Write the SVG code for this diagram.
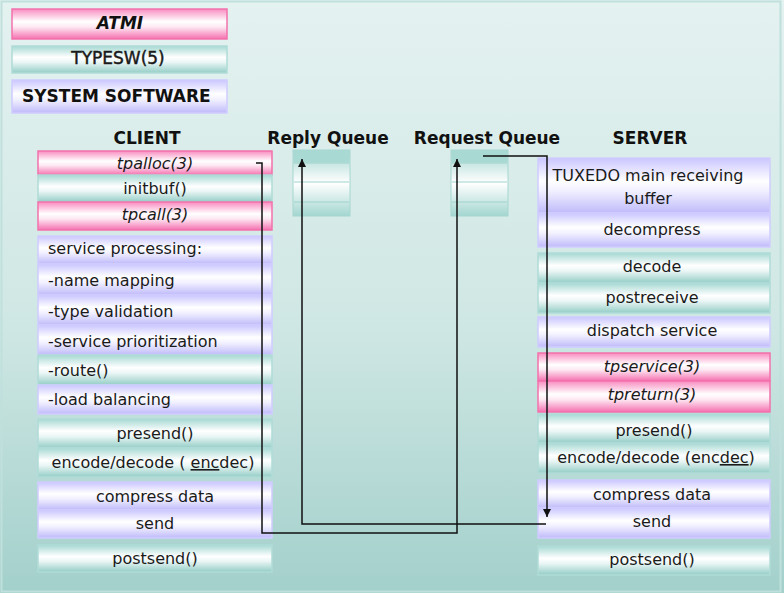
<svg xmlns="http://www.w3.org/2000/svg" width="784" height="593" viewBox="0 0 784 593">
<defs>
<linearGradient id="bg" x1="0" y1="0" x2="0" y2="1">
<stop offset="0" stop-color="#e4f2f0"/><stop offset="0.55" stop-color="#cfe7e4"/><stop offset="1" stop-color="#a3d0cb"/>
</linearGradient>
<linearGradient id="pink" x1="0" y1="0" x2="0" y2="1">
<stop offset="0" stop-color="#f98cc0"/><stop offset="0.42" stop-color="#ffffff"/><stop offset="0.6" stop-color="#fde8f2"/><stop offset="1" stop-color="#f570b0"/>
</linearGradient>
<linearGradient id="teal" x1="0" y1="0" x2="0" y2="1">
<stop offset="0" stop-color="#a6d9d3"/><stop offset="0.42" stop-color="#ffffff"/><stop offset="0.6" stop-color="#eaf6f5"/><stop offset="1" stop-color="#94cdc6"/>
</linearGradient>
<linearGradient id="lav" x1="0" y1="0" x2="0" y2="1">
<stop offset="0" stop-color="#cac6ff"/><stop offset="0.42" stop-color="#ffffff"/><stop offset="0.6" stop-color="#f1f0ff"/><stop offset="1" stop-color="#bfbafa"/>
</linearGradient>
<linearGradient id="q" x1="0" y1="0" x2="0" y2="1">
<stop offset="0" stop-color="#a3d6d0"/><stop offset="0.5" stop-color="#ffffff"/><stop offset="1" stop-color="#a3d6d0"/>
</linearGradient>
<marker id="arr" markerUnits="userSpaceOnUse" markerWidth="10" markerHeight="10" refX="8" refY="4" orient="auto">
<path d="M0,0 L8,4 L0,8 z" fill="#111"/>
</marker>
<style>
.t{font-family:"DejaVu Sans","Liberation Sans",sans-serif;font-size:16px;fill:#1a1a1a;text-anchor:middle}
.l{text-anchor:start}
.i{font-style:italic}
.h{font-weight:bold;font-size:17px;fill:#111}
.pk{fill:url(#pink);stroke:#f272ac;stroke-width:1.5}
.tl{fill:url(#teal);stroke:#b0dcd7;stroke-width:1.5}
.lv{fill:url(#lav);stroke:#d0ccff;stroke-width:1.5}
.qb{fill:url(#q);stroke:#a6d6d0;stroke-width:1}
.ql{stroke:#9fd3cc;stroke-width:1}
.c{fill:none;stroke:#111;stroke-width:1.5}
</style>
</defs>
<rect x="0" y="0" width="784" height="593" fill="url(#bg)"/>
<rect x="1.5" y="1.5" width="779" height="590" fill="none" stroke="#bfe0dc" stroke-width="2"/>

<g id="legend-atmi"><rect class="pk" x="12" y="9" width="215" height="30"/><text class="t h i" x="120" y="29">ATMI</text></g>
<g id="legend-typesw"><rect class="tl" x="12" y="46" width="215" height="27"/><text class="t" x="118" y="64" style="font-size:17px;stroke:#1a1a1a;stroke-width:0.45">TYPESW(5)</text></g>
<g id="legend-system"><rect class="lv" x="12" y="80" width="215" height="33"/><text class="t h l" x="22" y="102">SYSTEM SOFTWARE</text></g>

<g id="headers">
<text class="t h" x="147" y="144">CLIENT</text>
<text class="t h" x="328" y="144">Reply Queue</text>
<text class="t h" x="487" y="144">Request Queue</text>
<text class="t h" x="650" y="144">SERVER</text>
</g>

<g id="reply-queue">
<rect class="qb" x="293" y="150" width="57" height="66"/>
<rect x="293.5" y="150.5" width="56" height="12" fill="#a9d9d3"/>
<line class="ql" x1="294" y1="163" x2="349" y2="163"/>
<line class="ql" x1="294" y1="182" x2="349" y2="182"/>
<line class="ql" x1="294" y1="202" x2="349" y2="202"/>
</g>
<g id="request-queue">
<rect class="qb" x="451" y="150" width="57" height="66"/>
<rect x="451.5" y="150.5" width="56" height="12" fill="#a9d9d3"/>
<line class="ql" x1="452" y1="163" x2="507" y2="163"/>
<line class="ql" x1="452" y1="182" x2="507" y2="182"/>
<line class="ql" x1="452" y1="202" x2="507" y2="202"/>
</g>

<g id="client">
<g id="c-tpalloc"><rect class="pk" x="38" y="151" width="234" height="24"/><text class="t i" x="155" y="169">tpalloc(3)</text></g>
<g id="c-initbuf"><rect class="tl" x="38" y="175" width="234" height="27"/><text class="t" x="155" y="194">initbuf()</text></g>
<g id="c-tpcall"><rect class="pk" x="38" y="202" width="234" height="28"/><text class="t i" x="155" y="220">tpcall(3)</text></g>
<g id="c-service"><rect class="lv" x="38" y="236" width="234" height="28"/><text class="t l" x="48" y="254">service processing:</text></g>
<g id="c-name"><rect class="lv" x="38" y="264" width="234" height="31"/><text class="t l" x="48" y="286">-name mapping</text></g>
<g id="c-type"><rect class="lv" x="38" y="295" width="234" height="30"/><text class="t l" x="48" y="317">-type validation</text></g>
<g id="c-prio"><rect class="lv" x="38" y="325" width="234" height="30"/><text class="t l" x="48" y="347">-service prioritization</text></g>
<g id="c-route"><rect class="tl" x="38" y="355" width="234" height="30"/><text class="t l" x="48" y="376">-route()</text></g>
<g id="c-load"><rect class="lv" x="38" y="385" width="234" height="29"/><text class="t l" x="48" y="405">-load balancing</text></g>
<g id="c-presend"><rect class="tl" x="38" y="419" width="234" height="29"/><text class="t" x="155" y="439">presend()</text></g>
<g id="c-encode"><rect class="tl" x="38" y="448" width="234" height="29"/><text class="t" x="153" y="468">encode/decode ( <tspan text-decoration="underline">enc</tspan>dec)</text></g>
<g id="c-compress"><rect class="lv" x="38" y="482" width="234" height="28"/><text class="t" x="155" y="502">compress data</text></g>
<g id="c-send"><rect class="lv" x="38" y="510" width="234" height="28"/><text class="t" x="155" y="529">send</text></g>
<g id="c-postsend"><rect class="tl" x="38" y="545" width="234" height="27"/><text class="t" x="155" y="564">postsend()</text></g>
</g>

<g id="server">
<g id="s-tuxedo"><rect class="lv" x="538" y="158" width="232" height="55"/><text class="t" x="648" y="181">TUXEDO main receiving</text><text class="t" x="648" y="204">buffer</text></g>
<g id="s-decompress"><rect class="lv" x="538" y="213" width="232" height="34"/><text class="t" x="652" y="235">decompress</text></g>
<g id="s-decode"><rect class="tl" x="538" y="253" width="232" height="30"/><text class="t" x="652" y="272">decode</text></g>
<g id="s-postreceive"><rect class="tl" x="538" y="283" width="232" height="30"/><text class="t" x="652" y="303">postreceive</text></g>
<g id="s-dispatch"><rect class="lv" x="538" y="317" width="232" height="30"/><text class="t" x="652" y="336">dispatch service</text></g>
<g id="s-tpservice"><rect class="pk" x="538" y="353" width="232" height="28"/><text class="t i" x="652" y="372">tpservice(3)</text></g>
<g id="s-tpreturn"><rect class="pk" x="538" y="381" width="232" height="31"/><text class="t i" x="652" y="400">tpreturn(3)</text></g>
<g id="s-presend"><rect class="tl" x="538" y="414" width="232" height="29"/><text class="t" x="654" y="436">presend()</text></g>
<g id="s-encode"><rect class="tl" x="538" y="443" width="232" height="30"/><text class="t" x="656" y="463">encode/decode (enc<tspan text-decoration="underline">dec</tspan>)</text></g>
<g id="s-compress"><rect class="lv" x="538" y="480" width="232" height="28"/><text class="t" x="652" y="500">compress data</text></g>
<g id="s-send"><rect class="lv" x="538" y="508" width="232" height="30"/><text class="t" x="652" y="527">send</text></g>
<g id="s-postsend"><rect class="tl" x="538" y="546" width="232" height="29"/><text class="t" x="652" y="565">postsend()</text></g>
</g>

<g id="connectors">
<path class="c" d="M256,163 H262 V533 H457 V159" marker-end="url(#arr)"/>
<path class="c" d="M546,524 H302 V159" marker-end="url(#arr)"/>
<path class="c" d="M483,156 H547 V517" marker-end="url(#arr)"/>
</g>
</svg>
